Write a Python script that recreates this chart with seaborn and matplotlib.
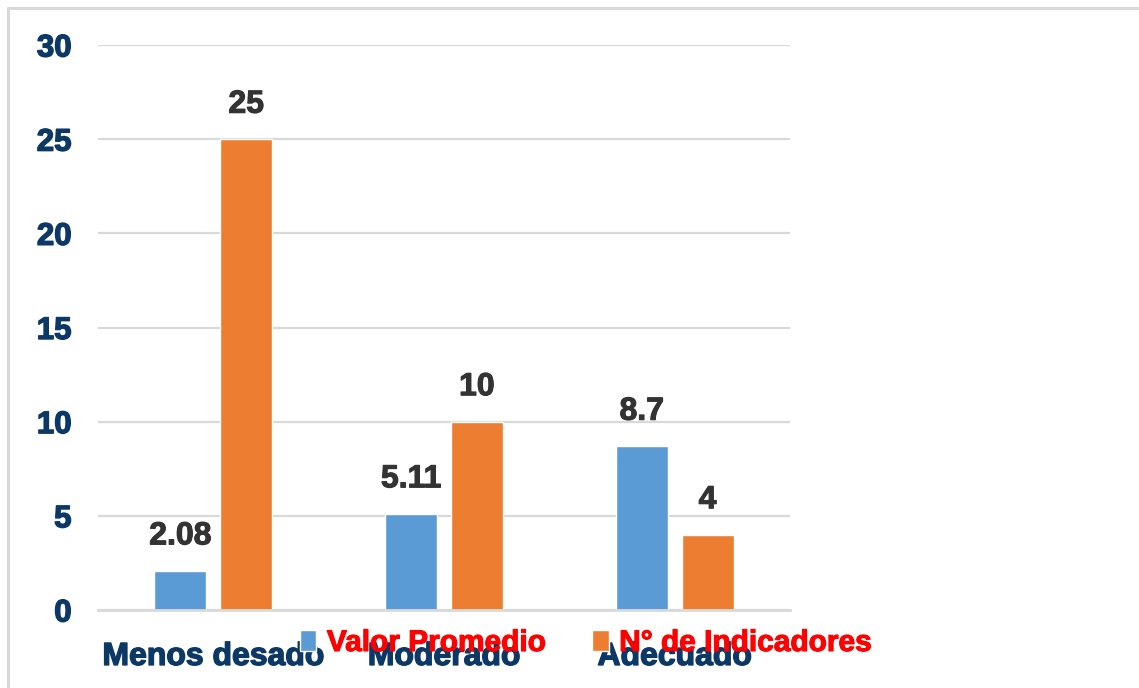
import matplotlib
matplotlib.use("Agg")
import matplotlib.pyplot as plt
import matplotlib.patheffects as pe
import seaborn as sns
import pandas as pd
from matplotlib.lines import Line2D

categories = ["Menos desado", "Moderado", "Adecuado"]
series_names = ["Valor Promedio", "N° de Indicadores"]
valor_promedio = [2.08, 5.11, 8.7]
n_indicadores = [25, 10, 4]
y_ticks = [0, 5, 10, 15, 20, 25, 30]

colors = ["#5B9BD5", "#ED7D31"]
navy = "#0B3866"

sns.set_theme(style="white")
plt.rcParams["font.family"] = ["Liberation Sans", "DejaVu Sans"]

df = pd.DataFrame({
    "cat": categories * 2,
    "serie": [series_names[0]] * 3 + [series_names[1]] * 3,
    "val": valor_promedio + n_indicadores,
})

fig = plt.figure(figsize=(11.39, 6.88), dpi=100)
ax = fig.add_axes([98 / 1139, 1 - 610 / 688, (790 - 98) / 1139, (610 - 45) / 688])

sns.barplot(data=df, x="cat", y="val", hue="serie", palette=colors,
            width=0.57, gap=0.21, ax=ax, saturation=1, legend=True)

ax.set_ylim(0, 30)
ax.set_yticks(y_ticks)
ax.set_xlabel("")
ax.set_ylabel("")
ax.yaxis.grid(True, color="#D9D9D9", linewidth=1.6)
ax.set_axisbelow(True)
for s in ["top", "right", "left"]:
    ax.spines[s].set_visible(False)
ax.spines["bottom"].set_color("#D9D9D9")
ax.spines["bottom"].set_linewidth(2)
ax.tick_params(axis="y", length=0, pad=19, labelsize=22.5, labelcolor=navy)
ax.tick_params(axis="x", length=0, pad=23, labelsize=23, labelcolor=navy)
for lab in ax.get_yticklabels() + ax.get_xticklabels():
    lab.set_fontweight("bold")
    lab.set_path_effects([pe.withStroke(linewidth=1.0, foreground=navy)])

for cont, vals in zip(ax.containers, [valor_promedio, n_indicadores]):
    txts = ax.bar_label(cont, labels=[f"{v:g}" for v in vals], padding=14,
                        fontsize=23, fontweight="bold", color="#333333")
    for t in txts:
        t.set_path_effects([pe.withStroke(linewidth=0.8, foreground="#333333")])

handles, labels = ax.get_legend_handles_labels()
ax.legend_.remove()
leg = fig.legend(handles, labels, loc="center left",
                 bbox_to_anchor=(300 / 1139, 1 - 643 / 688), ncol=2,
                 frameon=False, borderpad=0, borderaxespad=0,
                 handlelength=0.55, handleheight=0.7, handletextpad=0.35,
                 columnspacing=1.55, prop={"size": 21.5, "weight": "bold"})
for t in leg.get_texts():
    t.set_color("#FF0000")
    t.set_path_effects([pe.withStroke(linewidth=0.8, foreground="#FF0000")])

# figure border (top and left)
fig.add_artist(Line2D([8 / 1139, 1], [1 - 8 / 688, 1 - 8 / 688], color="#D9D9D9",
                      linewidth=2.2, transform=fig.transFigure))
fig.add_artist(Line2D([8 / 1139, 8 / 1139], [0, 1 - 8 / 688], color="#D9D9D9",
                      linewidth=2.2, transform=fig.transFigure))

fig.savefig("out.png", dpi=100)
